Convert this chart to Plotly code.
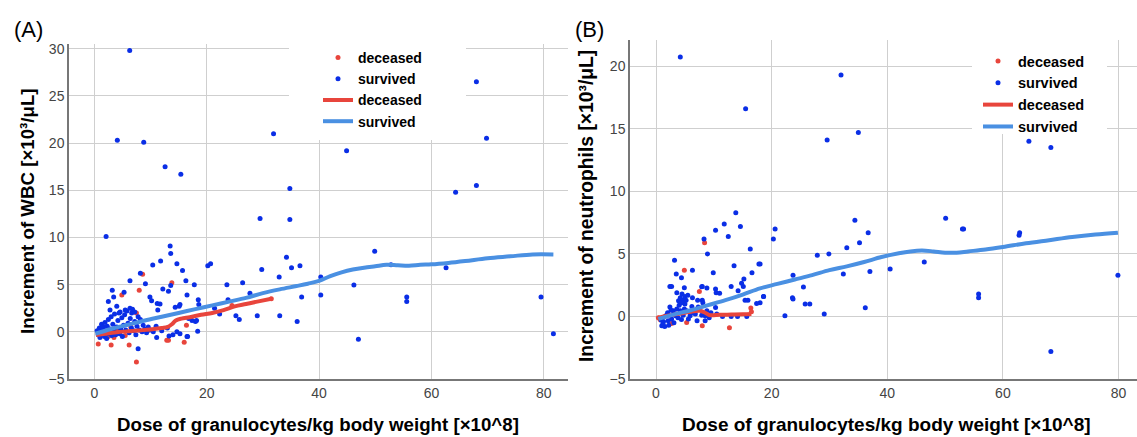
import plotly.graph_objects as go

# ---------------- Panel A: WBC ----------------
a_dec_x = [0.7, 3.0, 6.2, 7.5, 4.9, 8.0, 8.6, 13.8, 7.5, 12.9, 13.2, 16.0, 16.4, 1.5, 2.5,
           4.0, 5.5, 6.5, 9.5, 24.5, 31.5, 1.0, 3.5, 2.5]
a_dec_y = [-1.3, -1.4, -1.4, -3.2, 3.9, 4.4, 6.1, 5.2, 2.0, -0.9, -0.9, -1.1, 0.7, 0.3, -0.2,
           0.2, -0.4, 0.5, 0.1, 2.8, 3.5, 0.0, -0.6, -0.5]

a_sur_x = [6.3, 4.1, 8.8, 12.6, 15.4, 31.9, 34.8, 29.5, 34.8, 68.0, 69.8, 44.9, 64.3, 68.0,
           49.9, 34.2, 35.1, 36.6, 29.8, 20.2, 20.7, 15.7, 32.9, 40.3, 46.2, 16.3, 17.8, 23.6,
           26.4, 27.7, 16.5, 18.5, 18.6, 23.8, 36.9, 40.3, 21.4, 22.3, 25.2, 25.8, 29.0, 33.0,
           36.1, 47.0, 18.0, 18.4, 16.5, 52.8, 62.6, 55.6, 55.6, 79.5, 81.7,
           2.1, 13.5, 13.6, 11.8, 14.7, 10.4, 8.2, 6.35, 9.1, 13.6, 12.2, 13.2, 3.2, 5.3, 2.5,
           3.45, 10.2, 9.9, 11.2, 11.7, 15.25, 2.8, 4.0, 4.6, 5.5, 6.35, 6.65, 7.2, 11.3, 14.4,
           15.1, 16.8, 17.4, 18.2, 14.7, 15.25, 16.6, 11.1, 7.8, 13.3,
           0.5, 0.7, 0.9, 1.0, 1.2, 1.3, 1.5, 1.6, 1.8, 1.9, 2.0, 2.2, 2.3, 2.5, 2.6, 2.8, 3.0,
           3.1, 3.3, 3.5, 3.6, 3.8, 4.0, 4.2, 4.4, 4.5, 4.7, 4.9, 5.0, 5.2, 5.4, 5.6, 5.8, 6.0,
           6.2, 6.4, 6.6, 6.8, 7.0, 7.2, 7.4, 7.6, 7.8, 8.0, 8.2, 8.5, 8.7, 9.0, 9.3, 9.6, 10.0,
           10.5, 11.0, 12.0, 13.0, 14.0]
a_sur_y = [29.8, 20.3, 20.1, 17.5, 16.7, 21.0, 15.2, 12.0, 11.9, 26.5, 20.5, 19.2, 14.8, 15.5,
           8.55, 7.9, 6.8, 7.0, 6.6, 7.0, 7.2, 6.5, 5.8, 5.8, 4.95, 5.4, 5.0, 5.0,
           5.2, 4.1, 3.9, 3.4, 2.9, 3.4, 3.7, 3.9, 2.5, 1.9, 1.7, 1.3, 1.7, 1.7,
           1.1, -0.8, 1.1, 0.07, -0.5, 7.1, 6.8, 3.7, 3.2, 3.7, -0.2,
           10.1, 9.1, 8.3, 7.5, 7.2, 7.07, 6.2, 5.4, 5.1, 4.9, 4.55, 4.3, 4.4, 4.2, 3.2,
           3.7, 3.3, 3.7, 3.0, 2.95, 2.9, 2.3, 2.7, 2.1, 2.3, 2.5, 2.0, 2.1, 2.3, 2.6,
           2.7, 1.4, 1.2, 1.2, 0.0, -0.2, -0.5, -0.6, -1.8, -0.45,
           0.1, -0.3, 0.4, -0.6, 0.2, 0.8, -0.2, 0.5, -0.5, 1.0, 0.1, -0.7, 0.6, 1.3, -0.2, 0.3, 1.6,
           -0.4, 0.8, 0.1, 1.9, -0.3, 0.5, 1.2, 2.0, -0.2, 0.3, 1.5, -0.5, 0.7, 1.8, 0.2, 2.2, 0.9,
           -0.1, 1.4, 0.4, 2.4, 0.1, 1.1, -0.3, 0.6, 1.6, 0.2, 1.3, 0.0, 0.7, 0.3, -0.1, 0.5, 0.2,
           0.0, 0.6, 0.1, 0.4, -0.3]

a_fit_dec_x = [0.3, 2, 4, 6, 8, 10, 12, 13, 13.8, 14.5, 15.5, 17, 19, 21, 23, 25, 27, 29, 31.5]
a_fit_dec_y = [-0.35, -0.2, -0.05, 0.05, 0.15, 0.25, 0.4, 0.5, 0.8, 1.2, 1.4, 1.55, 1.8, 2.0,
               2.3, 2.7, 2.95, 3.2, 3.5]
a_fit_sur_x = [0.2, 3, 6, 9, 12, 15, 18, 21, 24, 27, 30, 33, 36, 38, 40, 42, 44, 46, 48, 50,
               52, 54, 56, 58, 60, 63, 66, 70, 74, 78, 81.7]
a_fit_sur_y = [-0.2, 0.3, 0.75, 1.2, 1.6, 2.0, 2.4, 2.8, 3.2, 3.6, 4.1, 4.5, 4.85, 5.1, 5.4,
               5.9, 6.3, 6.6, 6.8, 6.95, 7.1, 7.05, 7.0, 7.1, 7.15, 7.3, 7.5, 7.8, 8.0, 8.2, 8.2]

# ---------------- Panel B: neutrophils ----------------
b_dec_x = [8.4, 4.9, 7.5, 5.3, 8.0, 12.7, 2.7, 0.7, 0.4, 16.4, 16.5, 3.5, 6.0, 9.0, 1.5]
b_dec_y = [5.9, 3.7, 2.0, -0.48, -0.75, -0.9, -0.56, -0.25, -0.1, 0.67, 0.38, 0.2, 0.4, 0.1, 0.0]

b_sur_x = [4.2, 15.5, 32.0, 29.6, 35.0, 13.8, 34.4, 18.0, 20.6, 20.3, 36.7, 35.2, 33.0, 27.9,
           29.9, 32.4, 37.0, 40.5, 46.4, 50.1, 23.7, 25.5, 23.6, 23.7, 25.8, 26.6, 18.6, 18.0,
           22.3, 29.1, 36.2, 64.5, 68.3, 53.0, 53.2, 62.9, 62.8, 55.8, 55.8, 79.9, 68.3,
           11.8, 14.6, 10.3, 12.5, 8.3, 8.9, 16.3, 3.2, 17.8, 13.5, 6.3, 9.9, 16.6, 3.5, 4.4,
           15.2, 2.4, 2.7, 4.9, 8.8, 8.0, 10.3, 10.4, 13.0, 11.0, 14.2, 14.8, 15.1, 15.4, 15.9,
           17.4, 10.3, 13.0, 14.1, 15.7, 8.5, 7.9, 18.6,
           1.0, 1.5, 1.3, 2.1, 2.7, 1.8, 3.0, 3.6, 4.2, 4.7, 2.4, 3.4, 4.4, 5.3, 5.9, 6.5, 7.1,
           7.9, 8.8, 8.5, 7.3, 1.2, 2.2, 0.9, 2.0, 3.1, 3.8, 5.6, 6.2, 6.8, 9.5, 10.5, 11.5, 9.2,
           2.6, 4.0, 4.9, 5.0, 3.9, 4.2, 4.5, 4.7, 5.0, 5.2, 5.5, 6.3, 7.2, 8.0, 8.1, 4.4, 3.6]
b_sur_y = [20.75, 16.6, 19.3, 14.1, 14.7, 8.3, 7.7, 4.2, 7.0, 6.2, 6.7, 5.9, 5.5, 4.9,
           5.0, 3.4, 3.6, 3.8, 4.35, 7.85, 3.3, 2.35, 1.5, 1.4, 1.0, 1.0, 1.6, 1.1,
           0.05, 0.2, 0.7, 14.0, 13.5, 7.0, 7.0, 6.7, 6.5, 1.8, 1.5, 3.3, -2.8,
           7.4, 7.2, 6.9, 6.4, 6.2, 5.0, 5.4, 4.5, 4.2, 4.06, 3.7, 3.5, 3.5, 3.4, 3.1,
           3.0, 2.4, 2.4, 2.3, 2.27, 2.4, 2.2, 1.9, 2.4, 1.85, 2.06, 2.65, 2.4, 1.3, 1.3,
           1.04, 0.72, 0.0, 0.0, 0.0, -0.35, 2.38, 1.6,
           -0.75, -0.8, -0.4, -0.35, -0.2, 0.1, 0.45, 0.6, 0.45, 0.1, 0.75, 0.05, -0.25, 0.45,
           0.05, 0.3, -0.35, 0.1, 0.45, 0.05, 0.75, -0.6, -0.7, -0.3, 0.3, -0.5, -0.1, -0.2, 0.8,
           0.2, 0.3, 0.2, 0.0, -0.1, 0.5, 0.9, 0.6, 1.0, 1.25, 1.5, 1.8, 1.3, 1.6, 1.3, 1.7, 1.5,
           1.3, 1.3, 1.1, 1.1, 1.9]

b_fit_dec_x = [0.4, 2, 4, 6, 7.6, 8.5, 9.2, 11, 13, 15, 16.5]
b_fit_dec_y = [-0.1, 0.05, 0.22, 0.38, 0.46, 0.3, 0.12, 0.13, 0.15, 0.17, 0.2]
b_fit_sur_x = [0.4, 3, 6, 9, 12, 15, 18, 21, 24, 27, 30, 33, 36, 39, 42, 44, 46, 48, 50, 52,
               54, 57, 60, 64, 68, 72, 76, 79.9]
b_fit_sur_y = [-0.2, 0.15, 0.5, 0.9, 1.3, 1.75, 2.25, 2.6, 2.95, 3.3, 3.7, 4.0, 4.35, 4.75,
               5.05, 5.2, 5.27, 5.2, 5.1, 5.1, 5.2, 5.35, 5.55, 5.85, 6.1, 6.35, 6.55, 6.7]

x_ticks = [0, 20, 40, 60, 80]
a_y_ticks = [-5, 0, 5, 10, 15, 20, 25, 30]
b_y_ticks = [-5, 0, 5, 10, 15, 20]

DOT_RED = "#e8453c"
DOT_BLUE = "#0a2ee6"
LINE_RED = "#e8453c"
LINE_BLUE = "#4a90e2"
FONT = "Liberation Sans, Arial, sans-serif"

fig = go.Figure()


def add_panel(xa, ya, leg, dx, dy, sx, sy, fdx, fdy, fsx, fsy):
    fig.add_trace(go.Scatter(x=dx, y=dy, mode="markers", name="deceased", legend=leg,
                             marker=dict(color=DOT_RED, size=5), xaxis=xa, yaxis=ya))
    fig.add_trace(go.Scatter(x=sx, y=sy, mode="markers", name="survived", legend=leg,
                             marker=dict(color=DOT_BLUE, size=5), xaxis=xa, yaxis=ya))
    fig.add_trace(go.Scatter(x=fdx, y=fdy, mode="lines", name="deceased", legend=leg,
                             line=dict(color=LINE_RED, width=4, shape="spline"),
                             xaxis=xa, yaxis=ya))
    fig.add_trace(go.Scatter(x=fsx, y=fsy, mode="lines", name="survived", legend=leg,
                             line=dict(color=LINE_BLUE, width=4, shape="spline"),
                             xaxis=xa, yaxis=ya))


add_panel("x", "y", "legend", a_dec_x, a_dec_y, a_sur_x, a_sur_y,
          a_fit_dec_x, a_fit_dec_y, a_fit_sur_x, a_fit_sur_y)
add_panel("x2", "y2", "legend2", b_dec_x, b_dec_y, b_sur_x, b_sur_y,
          b_fit_dec_x, b_fit_dec_y, b_fit_sur_x, b_fit_sur_y)

axis_common = dict(showgrid=True, gridcolor="#cfcfcf", gridwidth=1, zeroline=False,
                   showline=True, linecolor="#777777", linewidth=1.5, ticks="",
                   tickfont=dict(family=FONT, size=14, color="#444444"))

L, T, B = 69, 40, 58
W, H = 1137, 437
PW, PH = W - L, H - T - B


def px(xp):
    return (xp - L) / PW


def py(yp):
    return (H - B - yp) / PH


fig.update_layout(
    width=W, height=H, paper_bgcolor="white", plot_bgcolor="white",
    margin=dict(l=L, r=0, t=T, b=B),
    xaxis=dict(domain=[0, px(568)], range=[-4.5, 84.3], tickvals=x_ticks, anchor="y",
               **axis_common),
    yaxis=dict(domain=[0, py(44)], range=[-5, 30.5], tickvals=a_y_ticks, anchor="x",
               **axis_common),
    xaxis2=dict(domain=[px(630), 1], range=[-4.5, 83.2], tickvals=x_ticks, anchor="y2",
                **axis_common),
    yaxis2=dict(domain=[0, 1], range=[-5, 22.1], tickvals=b_y_ticks, anchor="x2",
                **axis_common),
    legend=dict(x=px(318), y=py(42), xanchor="left", yanchor="top",
                bgcolor="rgba(0,0,0,0)",
                font=dict(family=FONT, size=14, color="black", weight="bold"),
                itemwidth=30, tracegroupgap=0),
    legend2=dict(x=px(978), y=py(45), xanchor="left", yanchor="top",
                 bgcolor="rgba(0,0,0,0)",
                 font=dict(family=FONT, size=14.5, color="black", weight="bold"),
                 itemwidth=30, tracegroupgap=0),
    shapes=[
        dict(type="rect", xref="paper", yref="paper", x0=px(289), x1=px(466), y0=py(140),
             y1=py(40), fillcolor="white", line=dict(width=0), layer="above"),
        dict(type="rect", xref="paper", yref="paper", x0=px(972), x1=px(1107), y0=py(134),
             y1=py(38), fillcolor="white", line=dict(width=0), layer="above"),
    ],
    annotations=[
        dict(text="(A)", x=px(28), y=py(29), xref="paper", yref="paper", showarrow=False,
             xanchor="center", yanchor="middle", font=dict(family=FONT, size=22, color="black")),
        dict(text="(B)", x=px(589), y=py(29), xref="paper", yref="paper", showarrow=False,
             xanchor="center", yanchor="middle", font=dict(family=FONT, size=22, color="black")),
        dict(text="Increment of WBC [×10³/μL]", x=px(27), y=py(211), xref="paper",
             yref="paper", showarrow=False, textangle=-90, xanchor="center", yanchor="middle",
             font=dict(family=FONT, size=18.7, color="black", weight="bold")),
        dict(text="Increment of neutrophils [×10³/μL]", x=px(586), y=py(206), xref="paper",
             yref="paper", showarrow=False, textangle=-90, xanchor="center", yanchor="middle",
             font=dict(family=FONT, size=19.3, color="black", weight="bold")),
        dict(text="Dose of granulocytes/kg body weight [×10^8]", x=px(318), y=py(424),
             xref="paper", yref="paper", showarrow=False, xanchor="center", yanchor="middle",
             font=dict(family=FONT, size=18.7, color="black", weight="bold")),
        dict(text="Dose of granulocytes/kg body weight [×10^8]", x=px(886), y=py(424),
             xref="paper", yref="paper", showarrow=False, xanchor="center", yanchor="middle",
             font=dict(family=FONT, size=19, color="black", weight="bold")),
    ],
)

fig.write_html("out.html", config={"displayModeBar": False},
               post_script="document.body.style.margin='0';document.body.style.padding='0';")
